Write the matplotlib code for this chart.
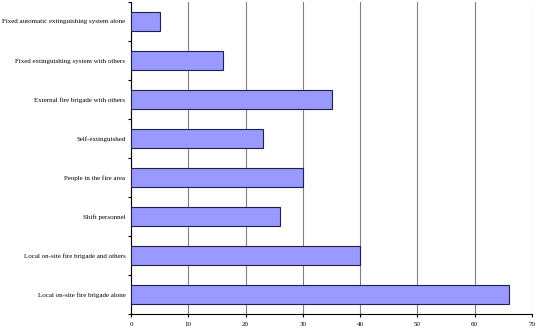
import numpy as np
import matplotlib
matplotlib.use("Agg")
import matplotlib.pyplot as plt

# categories listed bottom -> top, as drawn by barh
categories = [
    "Local on-site fire brigade alone",
    "Local on-site fire brigade and others",
    "Shift personnel",
    "People in the fire area",
    "Self-extinguished",
    "External fire brigade with others",
    "Fixed extinguishing system with others",
    "Fixed automatic extinguishing system alone",
]
values = [66, 40, 26, 30, 23, 35, 16, 5]
x_ticks = [0, 10, 20, 30, 40, 50, 60, 70]

plt.rcParams['font.family'] = ['Liberation Serif', 'DejaVu Serif']

fig = plt.figure(figsize=(5.38, 3.34), dpi=100)
ax = fig.add_axes([131 / 538, 20 / 334, 401 / 538, 312 / 334])

pos = np.arange(len(categories))
ax.barh(pos, values, height=0.5, color='#9999ff', edgecolor='#202050',
        linewidth=0.8, zorder=3)

ax.set_xlim(0, 70)
ax.set_ylim(-0.5, len(categories) - 0.5)
ax.set_xticks(x_ticks)
ax.set_xticklabels([str(t) for t in x_ticks], fontsize=5)
ax.xaxis.grid(True, color='#808080', linewidth=0.8, zorder=0)

ax.set_yticks(pos)
ax.set_yticklabels(categories, fontsize=5.0)
ax.set_yticks(np.arange(len(categories) + 1) - 0.5, minor=True)
ax.tick_params(axis='y', which='major', length=0, pad=4)
ax.tick_params(axis='y', which='minor', length=2.5, width=0.8, direction='out')
ax.tick_params(axis='x', length=2.5, width=0.8, direction='out', pad=3)

for side in ['top', 'right']:
    ax.spines[side].set_visible(False)
for side in ['left', 'bottom']:
    ax.spines[side].set_linewidth(0.8)
    ax.spines[side].set_color('black')

fig.savefig("out.png", dpi=100)
